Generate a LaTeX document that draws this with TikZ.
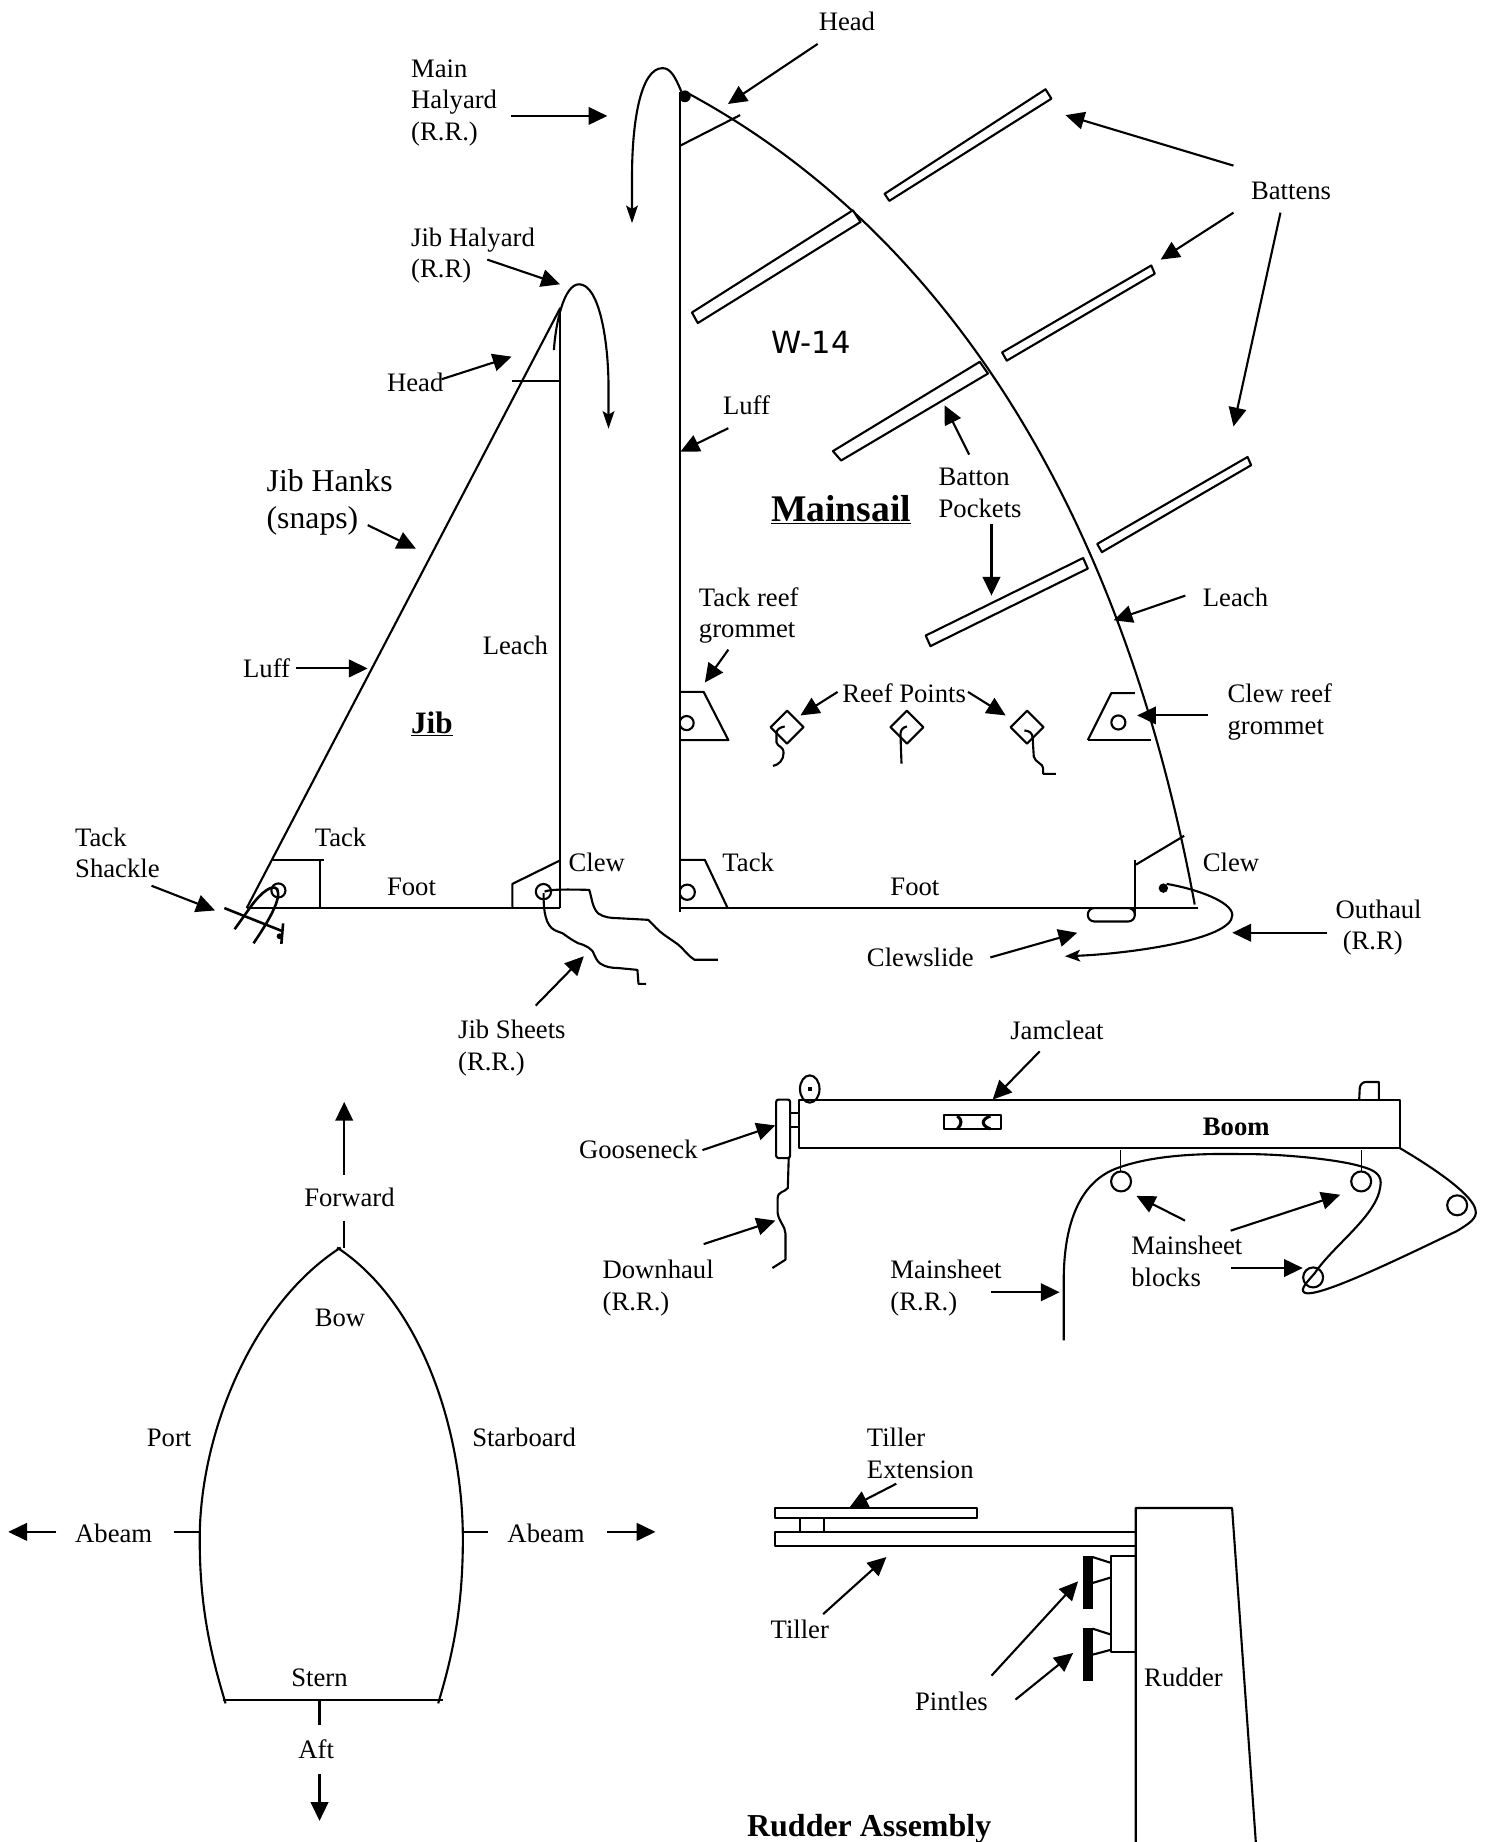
\documentclass[tikz,border=0pt]{standalone}
\usepackage{fontspec}
\setmainfont{Liberation Serif}
\newfontfamily\wfont{DejaVu Sans}
\usetikzlibrary{arrows.meta}
\tikzset{
  ln/.style={line width=1.8pt,line join=round},
  thin ln/.style={line width=1.3pt,line join=round},
  arr/.style={line width=1.8pt,-{Triangle[length=16pt,width=15pt]}},
  halarr/.style={line width=1.8pt,-{Stealth[length=15pt,width=10pt,inset=3pt]}},
  txt/.style={anchor=base west,inner sep=0pt,outer sep=0pt,align=left,font=\fontsize{22.7}{26.8}\selectfont},
  bigtxt/.style={txt,font=\fontsize{27}{32}\selectfont},
  bld/.style={txt,font=\fontsize{22.7}{26.8}\selectfont\bfseries},
  batten/.style={ln,fill=white},
}
\newcommand\conn[3]{\coordinate (#1s) at (#2); \coordinate (#1e) at (#3); \draw[arr] (#1s) -- (#1e);}
\newcommand\lbl[4]{\node[txt] (#1) at (#2,#3) {#4};}
\begin{document}
\begin{tikzpicture}[x=1pt,y=-1pt]
\useasboundingbox[fill=white] (0,0) rectangle (1269,1568);
% ---------- Mainsail
\draw[ln] (579,78) -- (579,776);
\draw[ln] (583,78) .. controls (765,175) and (945,380) .. (1017,770);
\draw[ln] (579,124) -- (630,98);
\draw[ln] (579,773) -- (1020,773);
\fill (583,82) circle (5);
\draw[halarr] (580,78) .. controls (575,66) and (571,58) .. (564,58) .. controls (545,58) and (538,105) .. (538,150) -- (538,190);
% battens
\draw[batten] (753,165) -- (890,76) -- (895,84) -- (757,171) -- cycle;
\draw[batten] (726,179) -- (732.5,189) -- (594,275) -- (589,266) -- cycle;
\draw[batten] (853,300) -- (980,226) -- (983,233) -- (857,307) -- cycle;
\draw[batten] (709,384) -- (834,308) -- (841,318) -- (716,392) -- cycle;
\draw[batten] (934,463) -- (1062,389) -- (1065,396) -- (938,470) -- cycle;
\draw[batten] (788,541) -- (922,475) -- (926,484) -- (792,550) -- cycle;
% reef area
\draw[ln] (579,589) -- (599,589) -- (620,630) -- (579,630);
\begin{scope}\clip (579,600) rectangle (600,630); \draw[ln] (584.5,615.5) circle (6); \end{scope}
\draw[ln] (926,630) -- (946,590) -- (966,590);
\draw[ln] (926,630) -- (980,630);
\draw[ln] (952,615) circle (6);
\draw[ln] (670,605) -- (684,619) -- (670,633) -- (656,619) -- cycle;
\draw[ln] (772,605) -- (786,619) -- (772,633) -- (758,619) -- cycle;
\draw[ln] (874.3,605) -- (888.3,619) -- (874.3,633) -- (860.3,619) -- cycle;
\draw[ln] (668,618.4) .. controls (664,619) and (661,621) .. (661,624) -- (661,632) .. controls (662,636) and (667,635) .. (667,641) .. controls (667,647) and (663,651) .. (658,652);
\draw[ln] (772,618.4) .. controls (769,619) and (766.5,621) .. (766.5,625) -- (767.4,650);
\draw[ln] (872,621.8) .. controls (876,622) and (879,624) .. (879,628) -- (880,644) .. controls (881,649) and (888,650) .. (888,654) -- (888,658.7) -- (898.7,658.7);
% main tack and clew
\draw[ln] (579,732) -- (600,732) -- (619.4,773);
\begin{scope}\clip (579,745) rectangle (600,770); \draw[ln] (585,759.5) circle (6.5); \end{scope}
\draw[ln] (966.5,732) -- (966.5,779);
\draw[ln] (967,736) -- (1008,711.5);
\fill (990.3,756) circle (4);
\draw[ln,rounded corners=5.5pt] (926,773) rectangle (966,784.4);
\draw[ln,-{Stealth[length=13pt,width=10pt,inset=3pt]}] (993,752.4) .. controls (1020,757) and (1049,768) .. (1049,779) .. controls (1049,800) and (960,812) .. (906.5,814);
% ---------- Jib
\draw[ln] (477,262) -- (477,773);
\draw[ln] (477,262) -- (210,773);
\draw[ln] (435.5,324) -- (477,324);
\draw[ln] (210,773) -- (477,773);
\draw[halarr] (471.5,298) .. controls (473,275) and (480,242) .. (493,242) .. controls (510,242) and (518,290) .. (518,330) -- (518,365);
\draw[ln] (232.5,732) -- (276,732);
\draw[ln] (272.3,732) -- (272.3,773);
\draw[ln] (237,758) circle (6);
\draw[line width=2.2pt] (191,773) -- (240,792.5);
\draw[line width=2.2pt] (241,786) -- (239.5,803.5);
\fill (238,797) circle (2.5);
\draw[line width=2.2pt] (199.7,791) -- (214,771) .. controls (222,760) and (232,752) .. (236,757) .. controls (240,765) and (228,785) .. (215.8,803);
\draw[ln] (436.2,773) -- (436.2,752.4) -- (476,732.8);
\draw[ln] (462.6,759) circle (6.5);
\draw[ln] (463.6,759) .. controls (468,757) and (480,757) .. (501.6,757.5) .. controls (504,765) and (504,772) .. (509,777.4) .. controls (514,781) and (520,781.5) .. (526,781.6) -- (551.7,783) .. controls (557,788) and (560,792) .. (565.4,795.8) .. controls (570,799) and (573,801) .. (577.6,804.3) .. controls (582,808) and (586,814) .. (591.2,817) -- (611,817);
\draw[ln] (462.7,760.3) .. controls (462.7,770) and (463,784) .. (469.6,790) .. controls (473,793) and (476,793) .. (478.8,794.4) .. controls (484,798) and (488,801) .. (492.4,803) .. controls (500,805) and (503,808) .. (504.6,810) .. controls (507,815) and (508,818) .. (510.7,820) .. controls (515,823) and (520,824) .. (525.9,824) -- (542.6,825.6) -- (543.5,837.5) -- (550,837.5);
% ---------- Boom
\draw[ln] (680.5,936) rectangle (1191.6,977.3);
\draw[ln] (689.3,927) ellipse (8.3 and 11.6);
\fill (688,925) rectangle (691,929);
\draw[ln,rounded corners=2pt] (660.7,936) rectangle (672.6,985.8);
\draw[ln] (672.6,947.5) -- (680.5,947.5);
\draw[ln] (672.6,959.7) -- (680.5,959.7);
\draw[ln] (803.5,949.5) rectangle (852.3,961);
\draw[line width=2.6pt] (815,950) .. controls (819,953) and (819,957) .. (815,961);
\draw[line width=2.6pt] (843,950) .. controls (835,953) and (835,958) .. (843,961);
\draw[ln] (1157,936) -- (1157.5,926) .. controls (1158,923) and (1160,921) .. (1163,921) -- (1173.7,921) -- (1173.7,936);
\draw[thin ln] (953.9,979) -- (953.9,997);
\draw[thin ln] (1159,979) -- (1159,997);
\draw[ln] (954.3,1005.7) circle (8.5);
\draw[ln] (1158.7,1005.7) circle (8.5);
\draw[ln] (1240.4,1026) circle (8.5);
\draw[ln] (1117.8,1087.4) circle (8.5);
\draw[ln] (905.5,1141) -- (905.5,1090) .. controls (905.5,1040) and (920,1005) .. (952,994) .. controls (985,982) and (1030,982) .. (1056,982.4) .. controls (1090,982) and (1140,987) .. (1159,993) .. controls (1170,996) and (1177,1000) .. (1175,1010) .. controls (1172,1035) and (1135,1060) .. (1119,1084) .. controls (1112,1092) and (1104,1100) .. (1113,1101) .. controls (1130,1101) and (1190,1072) .. (1240,1048) .. controls (1250,1042) and (1258,1037) .. (1256,1030) .. controls (1254,1018) and (1225,997) .. (1191.6,977.3);
\draw[ln] (671.4,985.8) -- (670.6,1011.3) .. controls (668,1015) and (662,1014) .. (662,1020) -- (662,1032.6) .. controls (663,1040) and (668.6,1044) .. (668.6,1050) -- (668.6,1072.3) -- (657.5,1079.4);
% ---------- Boat
\draw[ln] (290,1062) .. controls (215,1110) and (170,1220) .. (170,1310) .. controls (170,1370) and (180,1410) .. (192,1450);
\draw[ln] (287,1062) .. controls (360,1110) and (394,1220) .. (394,1310) .. controls (394,1370) and (385,1410) .. (373,1450);
\draw[ln] (190,1447) -- (377,1447);
\draw[ln] (293,1039) -- (293,1062);
\draw[ln] (272,1447) -- (272,1468);
\draw[ln] (148,1304) -- (170,1304);
\draw[ln] (394,1304) -- (415,1304);
% ---------- Rudder
\draw[ln] (660,1283.7) rectangle (832,1292.2);
\draw[ln] (680.8,1292.2) -- (680.8,1304);
\draw[ln] (701.3,1292.2) -- (701.3,1304);
\draw[ln] (966.8,1304) -- (660,1304) -- (660,1315.8) -- (966.8,1315.8);
\draw[ln] (966.8,1568) -- (966.8,1283.7) -- (1048.8,1283.7) -- (1069,1568);
\draw[ln] (966.8,1324.9) -- (946,1324.9) -- (946,1406.3) -- (966.8,1406.3);
\fill[black] (922,1324.9) rectangle (930,1369.7);
\fill[black] (922,1385.8) rectangle (930,1431.2);
\draw[ln] (930,1325.4) -- (946,1330.5);
\draw[ln] (930,1347.5) -- (946,1342.7);
\draw[ln] (930,1386.4) -- (946,1391.5);
\draw[ln] (930,1408.5) -- (946,1404.3);
% ---------- Labels (multi-line labels are placed by their last baseline)
\lbl{headtop}{697}{26}{Head}
\lbl{mainhal}{350}{119.5}{Main\\Halyard\\(R.R.)}
\lbl{jibhal}{350}{236.5}{Jib Halyard\\(R.R)}
\lbl{headjib}{329.5}{333}{Head}
\lbl{luffmain}{615.5}{353}{Luff}
\lbl{battens}{1065}{169.5}{Battens}
\lbl{pockets}{799}{440.5}{Batton\\Pockets}
\lbl{tackreef}{595}{543}{Tack reef\\grommet}
\lbl{leachmain}{1024}{516}{Leach}
\lbl{leachjib}{411}{557}{Leach}
\lbl{luffjib}{207}{577}{Luff}
\lbl{reef}{717}{598}{Reef Points}
\lbl{clewreef}{1045}{625}{Clew reef\\grommet}
\lbl{shackle}{64}{747}{Tack\\Shackle}
\lbl{tackjib}{268}{720.5}{Tack}
\lbl{footjib}{329.5}{762.5}{Foot}
\lbl{clewjib}{484}{741.5}{Clew}
\lbl{tackmain}{615}{741.5}{Tack}
\lbl{footmain}{758}{762.5}{Foot}
\lbl{clewmain}{1024}{741.5}{Clew}
\lbl{outhaul}{1137}{781.5}{Outhaul}
\lbl{outrr}{1143}{808.5}{(R.R)}
\lbl{clewslide}{738}{823}{Clewslide}
\lbl{sheets}{390}{911}{Jib Sheets\\(R.R.)}
\lbl{jamcleat}{860}{884.5}{Jamcleat}
\lbl{gooseneck}{493}{986}{Gooseneck}
\lbl{downhaul}{513}{1115.5}{Downhaul\\(R.R.)}
\lbl{msheet}{758}{1115.5}{Mainsheet\\(R.R.)}
\lbl{mblocks}{963}{1095}{Mainsheet\\blocks}
\lbl{forward}{259}{1027}{Forward}
\lbl{bow}{268}{1129}{Bow}
\lbl{port}{125}{1231}{Port}
\lbl{starboard}{402}{1231}{Starboard}
\lbl{abeaml}{64}{1313}{Abeam}
\lbl{abeamr}{432}{1313}{Abeam}
\lbl{stern}{248}{1436}{Stern}
\lbl{aft}{254}{1497}{Aft}
\lbl{tillerext}{738}{1258.5}{Tiller\\Extension}
\lbl{tiller}{656}{1395}{Tiller}
\lbl{pintles}{779}{1456}{Pintles}
\lbl{rudder}{974}{1436}{Rudder}
\node[bld] (boom) at (1024,966.5) {Boom};
\node[bigtxt] (hanks) at (227,450) {Jib Hanks\\(snaps)};
\node[txt,font=\fontsize{27.2}{32}\selectfont\bfseries] (assembly) at (636,1563.5) {Rudder Assembly};
\node[txt,font=\fontsize{26}{30}\selectfont\wfont] (wnum) at (657,300.5) {W-14};
\node[txt,font=\fontsize{32}{38}\selectfont\bfseries] (mainsail) at (656.5,444) {\underline{Mainsail}};
\node[txt,font=\fontsize{26.5}{30}\selectfont\bfseries] (jib) at (350,624.5) {\underline{Jib}};
% ---------- Arrows
\conn{a1}{696,37.4}{619.7,88.5}
\conn{a2}{435.4,98.7}{517,98.7}
\conn{a3}{414.8,221}{476.7,242}
\conn{a4}{376,322.8}{435.5,303.6}
\conn{a5}{620,364.5}{579.3,384.4}
\conn{a6}{1050,141}{907,98}
\conn{a7}{1050,181}{988,221}
\conn{a8}{1090,181}{1050,363}
\conn{a9}{825,387}{804,345}
\conn{a10}{844,446}{844,507}
\conn{a11}{1009,507}{948,528}
\conn{a12}{620,553}{600,581}
\conn{a13}{713,589}{681.4,609}
\conn{a14}{824,589}{856,609}
\conn{a15}{1028,609}{968,609}
\conn{a16}{313,447}{354,467}
\conn{a17}{252,569}{313,569}
\conn{a18}{129,754}{183,775}
\conn{a19}{456,856}{497,814}
\conn{a20}{1130,794}{1049,794}
\conn{a21}{843,815}{917,794}
\conn{a22}{885,895}{845,936}
\conn{a23}{598,979}{660,958}
\conn{a24}{599,1059}{660,1039}
\conn{a25}{844,1100}{902,1100}
\conn{a26}{1008.7,1039}{967.4,1018}
\conn{a27}{1047.6,1047.6}{1140.8,1017}
\conn{a28}{1047.6,1079.4}{1109,1079.4}
\conn{a29}{293,1000}{293,938}
\conn{a30}{272,1510}{272,1550}
\conn{a31}{48,1304}{7,1304}
\conn{a32}{517,1304}{558,1304}
\conn{a33}{763,1263}{722.8,1283.7}
\conn{a34}{700.7,1374}{754.6,1325.4}
\conn{a35}{844,1426.4}{917.7,1346.1}
\conn{a36}{864.4,1446.8}{913.5,1407.1}
\end{tikzpicture}
\end{document}
